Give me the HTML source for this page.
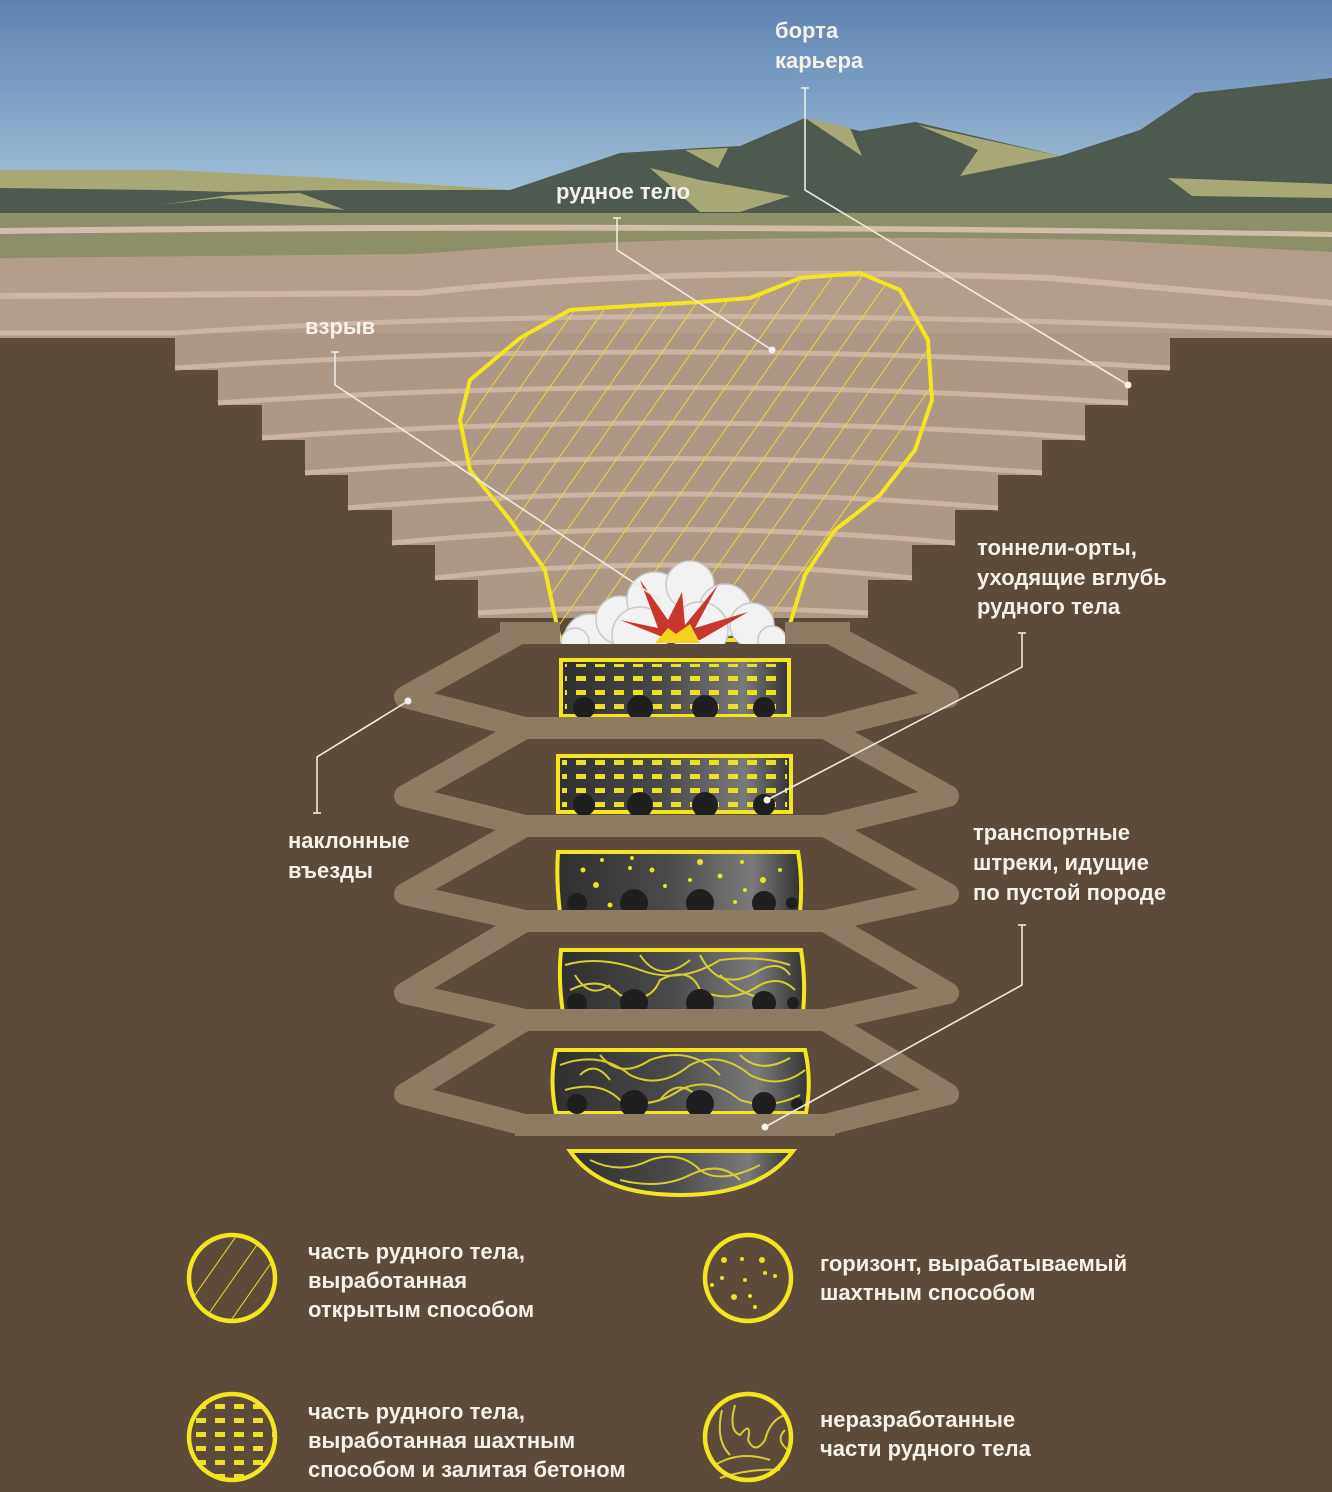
<!DOCTYPE html>
<html><head><meta charset="utf-8"><style>
html,body{margin:0;padding:0;background:#5c4b3b}
svg{display:block}
text{font-family:"Liberation Sans",sans-serif;font-weight:bold;fill:#f4f1ea;font-size:22px}
</style></head><body>
<svg width="1332" height="1492" viewBox="0 0 1332 1492" xmlns="http://www.w3.org/2000/svg">
<defs>
<linearGradient id="sky" x1="0" y1="0" x2="0" y2="1">
<stop offset="0" stop-color="#5d82b2"/><stop offset="1" stop-color="#a9c6da"/></linearGradient>
<linearGradient id="blk" x1="0" y1="0" x2="1" y2="0">
<stop offset="0" stop-color="#2f2f2f"/><stop offset="0.45" stop-color="#4a4a4a"/><stop offset="0.8" stop-color="#7a7a7a"/><stop offset="1" stop-color="#333"/></linearGradient>
<pattern id="hatch" width="24" height="24" patternUnits="userSpaceOnUse" patternTransform="rotate(35)">
<line x1="0" y1="0" x2="0" y2="24" stroke="#e8dc2a" stroke-width="2"/></pattern>
<pattern id="hatchL" width="22" height="22" patternUnits="userSpaceOnUse" patternTransform="rotate(35)">
<line x1="0" y1="0" x2="0" y2="22" stroke="#e8dc2a" stroke-width="2"/></pattern>
<pattern id="dash" width="19" height="14" patternUnits="userSpaceOnUse" x="6" y="4">
<rect x="0" y="0" width="10" height="5" fill="#ecdf25"/></pattern>
<clipPath id="ore"><path id="orep" d="M560,640 L545,570 L510,520 L470,470 L460,420 L470,380 L520,338 L570,310 L630,306 L700,302 L750,298 L800,278 L860,273 L900,290 L928,340 L932,400 L915,450 L880,495 L835,530 L805,575 L785,640 Z"/></clipPath>
<clipPath id="cl1"><rect x="0" y="0" width="1332" height="644"/></clipPath>
</defs>

<rect x="0" y="0" width="1332" height="215" fill="url(#sky)"/>
<polygon points="0,170 170,170 330,178 510,190 510,200 0,200" fill="#a8a776"/>
<polygon points="0,188 160,190 230,192 330,190 510,190 620,153 700,148 740,146 805,118 860,131 915,122 1060,156 1140,130 1195,93 1332,78 1332,215 0,215" fill="#4e5a50"/>
<polygon points="160,205 230,195 300,193 345,210 300,206 220,198" fill="#a8a776"/>
<polygon points="650,168 700,180 790,196 740,212 700,212" fill="#a8a776"/>
<polygon points="805,118 850,128 862,156" fill="#a8a776"/>
<polygon points="918,125 1060,156 960,176 978,150" fill="#a8a776"/>
<polygon points="1168,178 1332,184 1332,198 1192,196" fill="#a8a776"/>
<polygon points="685,150 728,148 718,168" fill="#a8a776"/>

<rect x="0" y="213" width="1332" height="125" fill="#8c8f68"/>
<path d="M0,228 Q666,220 1332,232 L1332,237 Q666,226 0,234 Z" fill="#d1bda9"/>
<path d="M0,258 L420,254 Q666,232 1100,240 L1332,252 L1332,338 L0,338 Z" fill="#b39e8c"/>
<path d="M0,293 L420,290 Q666,262 1050,275 L1332,300 L1332,306 L1050,281 Q666,268 420,296 L0,299 Z" fill="#cdb7a4"/>

<polygon points="0,333 1332,333 1332,338 1170,338 1170,370 1128,370 1128,405 1085,405 1085,440 1042,440 1042,475 998,475 998,510 955,510 955,545 912,545 912,580 868,580 868,618 478,618 478,580 435,580 435,545 392,545 392,510 348,510 348,475 305,475 305,440 262,440 262,405 218,405 218,370 175,370 175,338 0,338" fill="#ad9785"/>
<g fill="none" stroke="#cbb5a2" stroke-width="5">
<path d="M0,333 L175,333 Q666,300 1332,333"/>
<path d="M175,368 Q666,336 1170,368"/>
<path d="M218,403 Q666,372 1128,403"/>
<path d="M262,438 Q666,408 1085,438"/>
<path d="M305,473 Q666,444 1042,473"/>
<path d="M348,508 Q666,480 998,508"/>
<path d="M392,543 Q666,516 955,543"/>
<path d="M435,578 Q666,552 912,578"/>
<path d="M478,613 Q666,602 868,613"/>
</g>

<rect x="440" y="260" width="500" height="390" fill="url(#hatch)" clip-path="url(#ore)"/>
<use href="#orep" fill="none" stroke="#f3e61f" stroke-width="4"/>

<g clip-path="url(#cl1)" fill="#f2f2f2" stroke="#c9c9c9" stroke-width="1.5">
<circle cx="590" cy="640" r="26"/><circle cx="620" cy="620" r="24"/><circle cx="655" cy="600" r="28"/>
<circle cx="690" cy="585" r="24"/><circle cx="725" cy="610" r="26"/><circle cx="752" cy="625" r="22"/>
<circle cx="772" cy="640" r="14"/><circle cx="640" cy="635" r="28"/><circle cx="700" cy="630" r="28"/><circle cx="575" cy="642" r="14"/>
</g>
<polygon points="670,640 620,620 658,628 640,580 668,620 682,592 685,625 718,585 695,628 748,612 700,640" fill="#c8372c"/>
<polygon points="655,643 668,628 676,634 690,624 700,643" fill="#f5d21e"/>

<g stroke="#f3e61f" stroke-width="4">
<rect x="561" y="660" width="228" height="56" fill="url(#blk)"/>
<rect x="558" y="756" width="233" height="56" fill="url(#blk)"/>
<path d="M558,852 L798,852 Q803,880 800,913 L560,913 Q556,880 558,852Z" fill="url(#blk)"/>
<path d="M561,950 L801,950 Q806,980 803,1013 L563,1013 Q558,980 561,950Z" fill="url(#blk)"/>
<path d="M556,1050 L805,1050 Q812,1080 806,1113 L556,1113 Q549,1080 556,1050Z" fill="url(#blk)"/>
<path d="M570,1151 L793,1151 Q760,1195 680,1195 Q600,1195 570,1151Z" fill="url(#blk)"/>
</g>
<rect x="565" y="664" width="220" height="48" fill="url(#dash)"/>
<rect x="562" y="760" width="225" height="48" fill="url(#dash)"/>
<g fill="#ecdf25">
<circle cx="583" cy="870" r="2.5"/><circle cx="602" cy="860" r="2"/><circle cx="596" cy="885" r="3"/><circle cx="630" cy="868" r="2"/><circle cx="632" cy="858" r="2"/>
<circle cx="652" cy="870" r="2.5"/><circle cx="665" cy="886" r="2"/><circle cx="700" cy="862" r="3"/><circle cx="690" cy="880" r="2"/><circle cx="720" cy="876" r="2.5"/>
<circle cx="742" cy="862" r="2"/><circle cx="763" cy="880" r="3"/><circle cx="610" cy="905" r="2.5"/><circle cx="735" cy="902" r="2"/><circle cx="745" cy="890" r="2"/>
<circle cx="575" cy="898" r="2"/><circle cx="780" cy="870" r="2"/><circle cx="760" cy="905" r="2.5"/>
</g>
<g fill="none" stroke="#d9cc30" stroke-width="2">
<path d="M565,965 Q600,955 640,970 T720,960 Q760,955 790,965"/>
<path d="M570,990 Q600,975 620,995 Q650,1005 660,980 Q690,965 700,990 Q730,1005 760,985 Q780,975 795,990"/>
<path d="M640,955 Q660,985 690,960 M700,955 Q720,995 760,970 Q780,960 790,975"/>
<path d="M575,975 Q590,1000 610,985 M720,975 Q740,995 770,1000"/>
<path d="M560,1065 Q600,1050 630,1075 Q660,1090 690,1065 Q720,1050 750,1075 Q780,1090 805,1070"/>
<path d="M565,1090 Q600,1080 620,1100 Q650,1110 680,1090 Q710,1075 740,1100 Q770,1110 800,1095"/>
<path d="M600,1055 Q620,1080 650,1060 Q690,1045 720,1075 M740,1055 Q760,1075 790,1058"/>
<path d="M580,1075 Q595,1060 610,1080 M660,1100 Q680,1075 700,1100"/>
<path d="M590,1160 Q620,1175 650,1160 Q680,1150 700,1170 Q720,1185 760,1165"/>
<path d="M620,1180 Q660,1190 690,1175 Q720,1160 740,1180"/>
</g>
<g fill="#1f1f1f">
<circle cx="584" cy="708" r="11"/><circle cx="640" cy="708" r="13"/><circle cx="705" cy="708" r="13"/><circle cx="764" cy="708" r="11"/>
<circle cx="584" cy="805" r="11"/><circle cx="640" cy="805" r="13"/><circle cx="705" cy="805" r="13"/><circle cx="764" cy="805" r="11"/>
<circle cx="577" cy="903" r="10"/><circle cx="634" cy="903" r="14"/><circle cx="700" cy="903" r="14"/><circle cx="764" cy="903" r="12"/><circle cx="792" cy="903" r="6"/>
<circle cx="577" cy="1003" r="10"/><circle cx="634" cy="1003" r="14"/><circle cx="700" cy="1003" r="14"/><circle cx="764" cy="1003" r="12"/><circle cx="793" cy="1003" r="6"/>
<circle cx="577" cy="1104" r="10"/><circle cx="634" cy="1104" r="14"/><circle cx="700" cy="1104" r="14"/><circle cx="764" cy="1104" r="12"/><circle cx="797" cy="1104" r="6"/>
</g>

<g fill="none" stroke="#8d7b63" stroke-width="22" stroke-linejoin="round" stroke-linecap="butt">
<polyline points="520,633 405,697 525,728 405,796 525,826 405,894 525,921 405,993 525,1020 405,1094 525,1125"/>
<polyline points="830,633 948,697 825,728 948,796 825,826 948,894 825,921 948,993 825,1020 948,1094 825,1125"/>
<line x1="515" y1="728" x2="835" y2="728"/>
<line x1="515" y1="826" x2="835" y2="826"/>
<line x1="515" y1="921" x2="835" y2="921"/>
<line x1="515" y1="1020" x2="835" y2="1020"/>
<line x1="515" y1="1125" x2="835" y2="1125"/>
<line x1="500" y1="633" x2="560" y2="633"/>
<line x1="785" y1="633" x2="850" y2="633"/>
</g>

<g stroke="#eeeae2" stroke-width="1.6" fill="none">
<path d="M805,88 L805,190 L1128,385"/><path d="M801,88 H809"/>
<path d="M617,218 L617,250 L772,350"/><path d="M613,218 H621"/>
<path d="M335,352 L335,385 L660,600"/><path d="M331,352 H339"/>
<path d="M1022,633 L1022,667 L767,800"/><path d="M1018,633 H1026"/>
<path d="M408,701 L317,757 L317,813"/><path d="M313,813 H321"/>
<path d="M1022,925 L1022,985 L765,1127"/><path d="M1018,925 H1026"/>
</g>
<g fill="#f4f1ea">
<circle cx="1128" cy="385" r="3.5"/><circle cx="772" cy="350" r="3.5"/><circle cx="767" cy="800" r="3.5"/>
<circle cx="408" cy="701" r="3.5"/><circle cx="765" cy="1127" r="3.5"/>
</g>

<text x="775" y="38">борта</text><text x="775" y="68">карьера</text>
<text x="556" y="199">рудное тело</text>
<text x="305" y="334">взрыв</text>
<text x="977" y="555">тоннели-орты,</text><text x="977" y="585">уходящие вглубь</text><text x="977" y="614">рудного тела</text>
<text x="288" y="848">наклонные</text><text x="288" y="878">въезды</text>
<text x="973" y="840">транспортные</text><text x="973" y="870">штреки, идущие</text><text x="973" y="900">по пустой породе</text>

<clipPath id="c1"><circle cx="232" cy="1278" r="42"/></clipPath>
<clipPath id="c2"><circle cx="232" cy="1437" r="42"/></clipPath>
<rect x="185" y="1230" width="95" height="95" fill="url(#hatchL)" clip-path="url(#c1)"/>
<rect x="185" y="1390" width="95" height="95" fill="url(#dash)" clip-path="url(#c2)"/>
<g fill="#ecdf25">
<circle cx="724" cy="1260" r="3"/><circle cx="742" cy="1259" r="2"/><circle cx="762" cy="1260" r="3"/><circle cx="722" cy="1278" r="2"/><circle cx="745" cy="1280" r="2"/>
<circle cx="765" cy="1273" r="2"/><circle cx="734" cy="1297" r="3"/><circle cx="750" cy="1296" r="2"/><circle cx="712" cy="1285" r="2"/><circle cx="755" cy="1307" r="2"/><circle cx="775" cy="1276" r="2"/>
</g>
<g fill="none" stroke="#d9cc30" stroke-width="2">
<path d="M722,1410 Q715,1440 730,1455 M735,1405 Q728,1430 740,1435 Q752,1420 748,1440 Q755,1455 765,1440 Q770,1420 785,1415"/>
<path d="M715,1465 Q740,1450 770,1460 M720,1478 Q750,1468 780,1470 M785,1430 Q775,1440 788,1450"/>
</g>
<g fill="none" stroke="#f3e61f" stroke-width="4.5">
<circle cx="232" cy="1278" r="43"/><circle cx="748" cy="1278" r="43"/>
<circle cx="232" cy="1437" r="43"/><circle cx="748" cy="1437" r="43"/>
</g>
<text x="308" y="1259">часть рудного тела,</text><text x="308" y="1288">выработанная</text><text x="308" y="1317">открытым способом</text>
<text x="820" y="1271">горизонт, вырабатываемый</text><text x="820" y="1300">шахтным способом</text>
<text x="308" y="1419">часть рудного тела,</text><text x="308" y="1448">выработанная шахтным</text><text x="308" y="1477">способом и залитая бетоном</text>
<text x="820" y="1427">неразработанные</text><text x="820" y="1456">части рудного тела</text>
</svg>
</body></html>
